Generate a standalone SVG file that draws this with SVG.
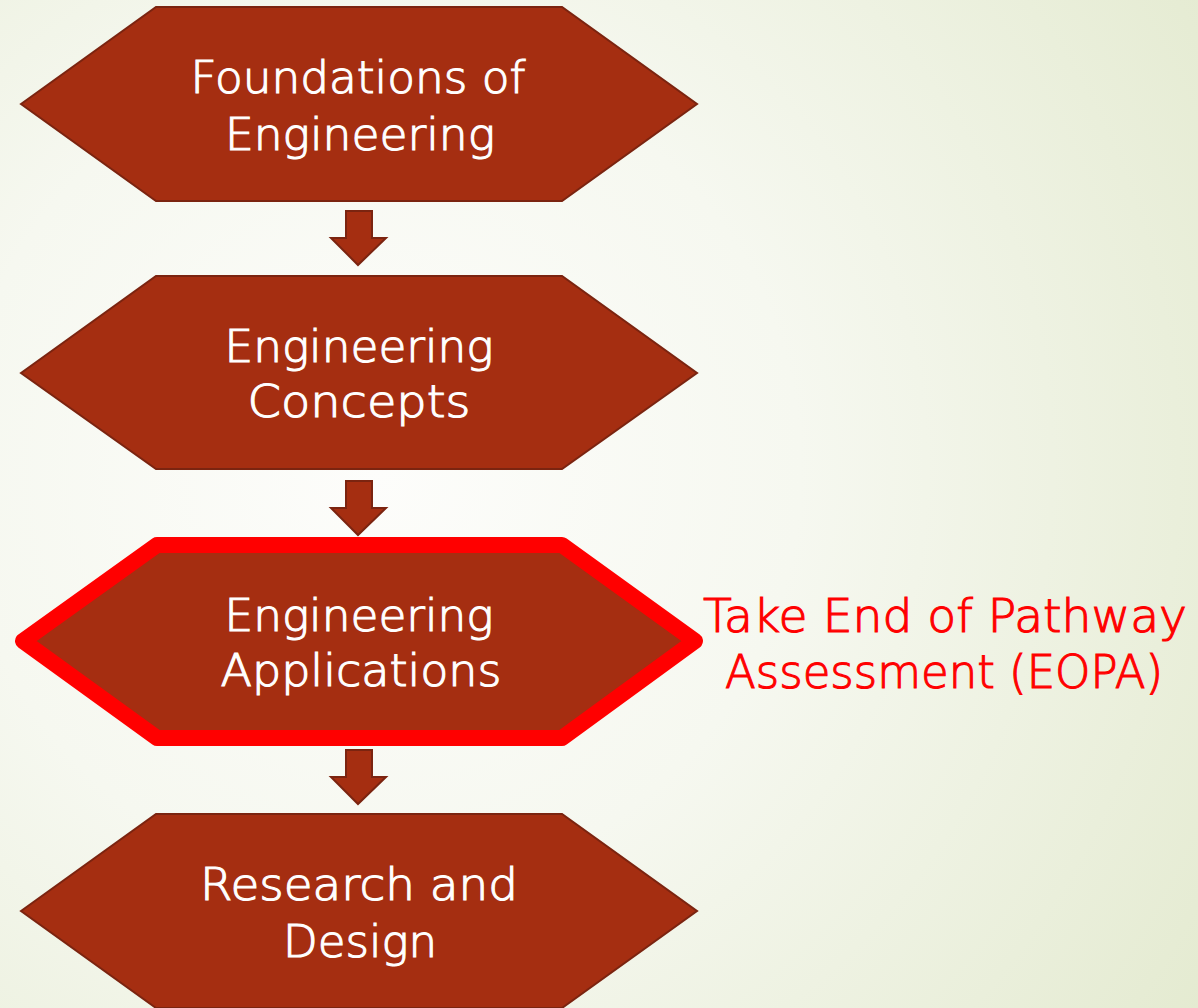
<svg xmlns="http://www.w3.org/2000/svg" width="1198" height="1008" viewBox="0 0 1198 1008">
  <defs>
    <radialGradient id="bg" gradientUnits="userSpaceOnUse" cx="380" cy="470" r="1050">
      <stop offset="0" stop-color="#fdfdfb"/>
      <stop offset="0.4" stop-color="#f6f8f0"/>
      <stop offset="1" stop-color="#e2e9cd"/>
    </radialGradient>
    <style>
      .hex { fill: #a52e11; stroke: #7b2410; stroke-width: 2; stroke-linejoin: miter; }
      .hex-hl { fill: #a52e11; stroke: #ff0000; stroke-width: 16; stroke-linejoin: round; }
      .arrow { fill: #a52e11; stroke: #7b2410; stroke-width: 2; }
      .lbl { font-family: "DejaVu Sans", "Liberation Sans", sans-serif; font-weight: 300; font-size: 44px; fill: #ffffff; stroke: #ffffff; stroke-width: 1.1; text-anchor: middle; }
      .note { font-family: "DejaVu Sans", "Liberation Sans", sans-serif; font-weight: 300; font-size: 46px; fill: #ff0000; stroke: #ff0000; stroke-width: 1.1; text-anchor: middle; }
    </style>
  </defs>
  <rect x="0" y="0" width="1198" height="1008" fill="url(#bg)"/>

  <g id="connectors">
    <polygon class="arrow" points="346,211 372,211 372,238 386,238 358,265 331,238 346,238"/>
    <polygon class="arrow" points="346,481 372,481 372,508 386,508 358,535 331,508 346,508"/>
    <polygon class="arrow" points="346,750 372,750 372,777 386,777 358,804 331,777 346,777"/>
  </g>

  <g id="node-foundations">
    <polygon class="hex" points="21,104 156,7 562,7 697,104 562,201 156,201"/>
    <text class="lbl" x="358" y="93" textLength="335" lengthAdjust="spacingAndGlyphs">Foundations of</text>
    <text class="lbl" x="360" y="150" textLength="270" lengthAdjust="spacingAndGlyphs">Engineering</text>
  </g>

  <g id="node-concepts">
    <polygon class="hex" points="21,373 156,276 562,276 697,373 562,469 156,469"/>
    <text class="lbl" x="359" y="362" textLength="269" lengthAdjust="spacingAndGlyphs">Engineering</text>
    <text class="lbl" x="359" y="417" textLength="223" lengthAdjust="spacingAndGlyphs">Concepts</text>
  </g>

  <g id="node-applications">
    <polygon class="hex-hl" points="23,641 157,545 562,545 695,641 562,738 157,738"/>
    <text class="lbl" x="359" y="631" textLength="269" lengthAdjust="spacingAndGlyphs">Engineering</text>
    <text class="lbl" x="361" y="686" textLength="281" lengthAdjust="spacingAndGlyphs">Applications</text>
  </g>

  <g id="node-research">
    <polygon class="hex" points="21,911 156,814 562,814 697,911 562,1008 156,1008"/>
    <text class="lbl" x="359" y="900" textLength="318" lengthAdjust="spacingAndGlyphs">Research and</text>
    <text class="lbl" x="360" y="957" textLength="154" lengthAdjust="spacingAndGlyphs">Design</text>
  </g>

  <g id="note-eopa">
    <text class="note" x="945" y="632" textLength="484" lengthAdjust="spacingAndGlyphs">Take End of Pathway</text>
    <text class="note" x="944" y="688" textLength="438" lengthAdjust="spacingAndGlyphs">Assessment (EOPA)</text>
  </g>
</svg>
